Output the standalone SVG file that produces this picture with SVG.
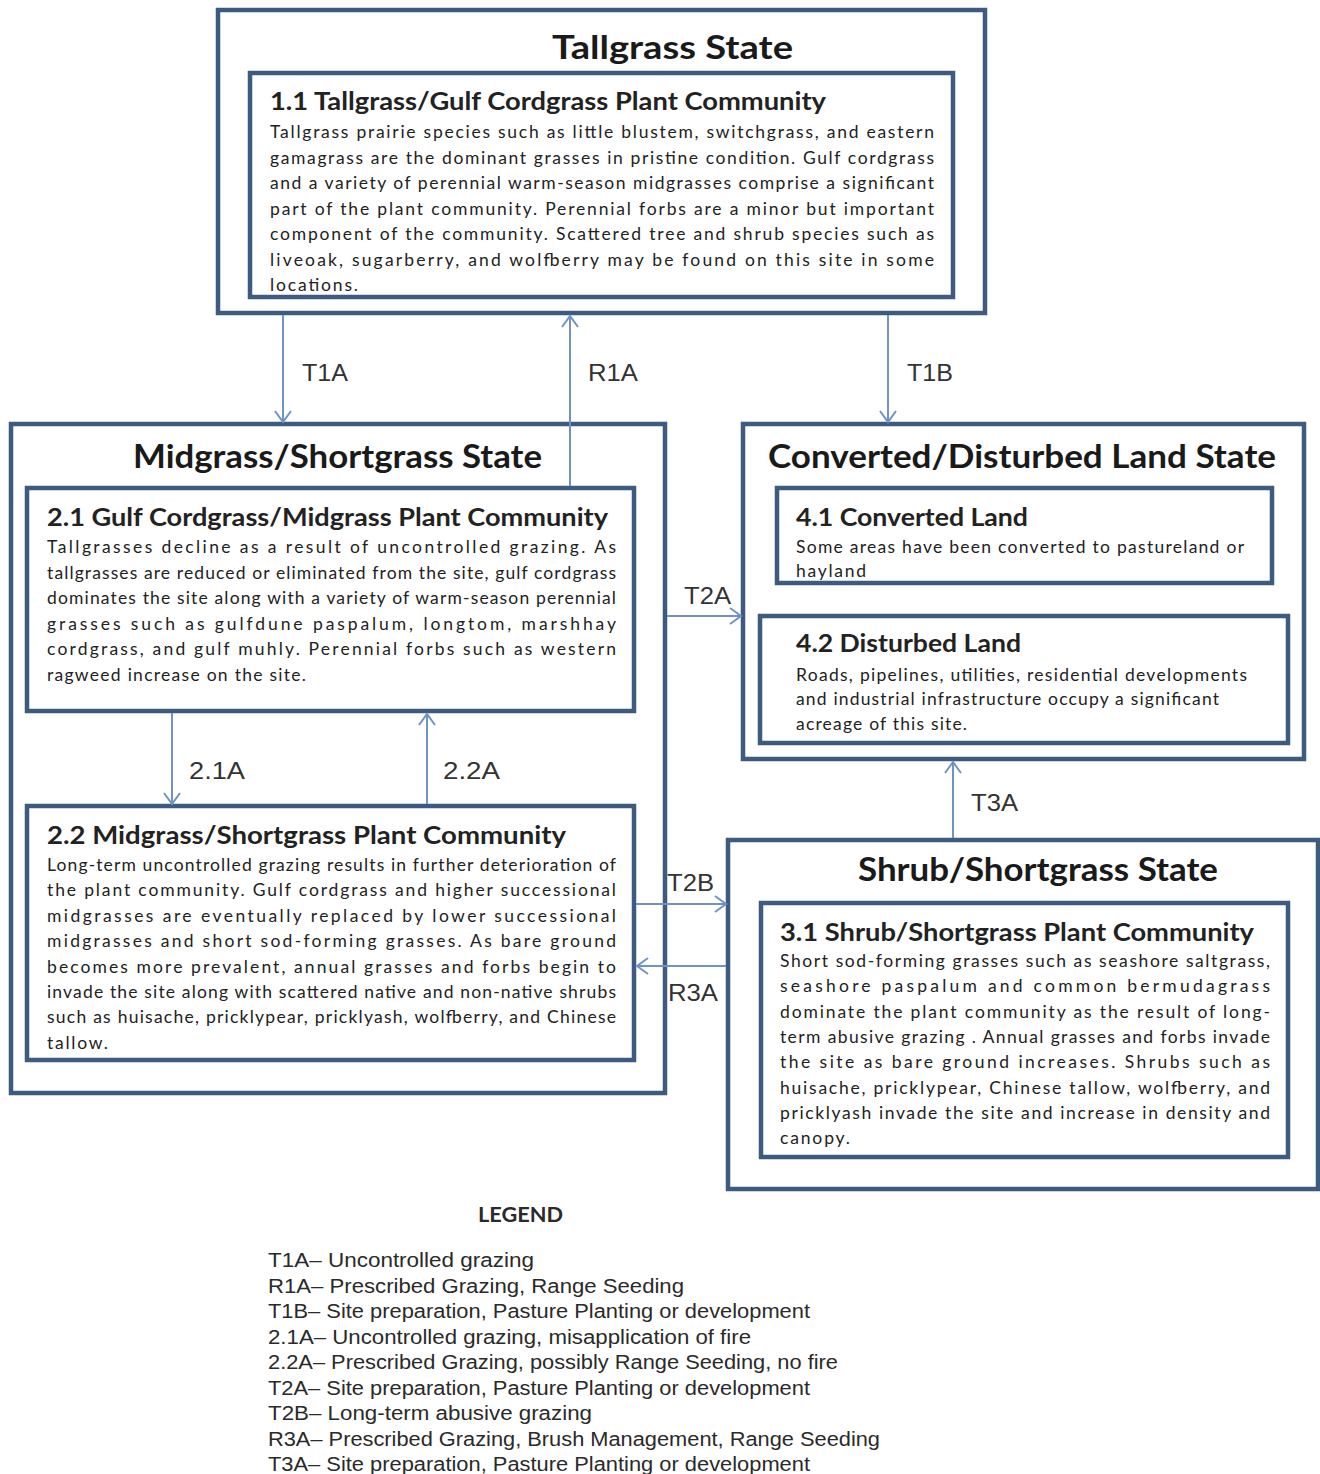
<svg xmlns="http://www.w3.org/2000/svg" width="1320" height="1474" viewBox="0 0 1320 1474">
<style>
.box{fill:#ffffff;stroke:#3d5a80;stroke-width:4.5}
.st{font-family:Lato,"Open Sans",sans-serif;font-weight:700;font-size:33px;fill:#1a1a1a}
.ct{font-family:Lato,"Open Sans",sans-serif;font-weight:700;font-size:24px;fill:#222}
.bd{font-family:Lato,"Open Sans",sans-serif;font-size:17.5px;fill:#222}
.lab{font-family:"Liberation Sans",Arial,sans-serif;font-size:24px;fill:#333}
.lg{font-family:"Liberation Sans",Arial,sans-serif;font-size:20px;fill:#2a2a2a}
.lgh{font-family:Lato,"Open Sans",sans-serif;font-weight:700;font-size:20px;fill:#2a2a2a}
.ar{stroke:#6f93c4;stroke-width:2;fill:none}
</style>
<defs>
<marker id="ah" viewBox="-13 -9 15 18" markerWidth="15" markerHeight="18" refX="0" refY="0" orient="auto" markerUnits="userSpaceOnUse">
<path d="M-11,-8 L0,0 L-11,8" fill="none" stroke="#6f93c4" stroke-width="2"/>
</marker>
</defs>
<rect width="1320" height="1474" fill="#ffffff"/>

<g id="tallgrass-state">
<rect class="box" x="218" y="10" width="767" height="303"/>
<text class="st" x="552" y="59" textLength="241" lengthAdjust="spacingAndGlyphs">Tallgrass State</text>
</g>
<g id="community-1-1">
<rect class="box" x="250" y="73" width="703" height="224"/>
<text class="ct" x="270" y="110" textLength="556" lengthAdjust="spacingAndGlyphs">1.1 Tallgrass/Gulf Cordgrass Plant Community</text>
<text class="bd" x="270" y="138" textLength="664" lengthAdjust="spacing">Tallgrass prairie species such as little blustem, switchgrass, and eastern</text>
<text class="bd" x="270" y="163.5" textLength="664" lengthAdjust="spacing">gamagrass are the dominant  grasses in pristine condition.  Gulf cordgrass</text>
<text class="bd" x="270" y="189" textLength="664" lengthAdjust="spacing">and a variety of perennial warm-season midgrasses comprise a significant</text>
<text class="bd" x="270" y="214.5" textLength="664" lengthAdjust="spacing">part of the plant community.  Perennial forbs are a minor but important</text>
<text class="bd" x="270" y="240" textLength="664" lengthAdjust="spacing">component of the community.  Scattered tree and shrub species such as</text>
<text class="bd" x="270" y="265.5" textLength="664" lengthAdjust="spacing">liveoak, sugarberry, and wolfberry may be found on this site in some</text>
<text class="bd" x="270" y="291" textLength="88" lengthAdjust="spacing">locations.</text>
</g>

<g id="midgrass-state">
<rect class="box" x="11" y="424" width="654" height="669"/>
<text class="st" x="133" y="468" textLength="409" lengthAdjust="spacingAndGlyphs">Midgrass/Shortgrass State</text>
</g>
<g id="community-2-1">
<rect class="box" x="27" y="488" width="607" height="223"/>
<text class="ct" x="47" y="526" textLength="561" lengthAdjust="spacingAndGlyphs">2.1 Gulf Cordgrass/Midgrass Plant Community</text>
<text class="bd" x="47" y="553" textLength="569" lengthAdjust="spacing">Tallgrasses decline as a result of uncontrolled grazing.  As</text>
<text class="bd" x="47" y="578.5" textLength="569" lengthAdjust="spacing">tallgrasses are reduced or eliminated from the site, gulf cordgrass</text>
<text class="bd" x="47" y="604" textLength="569" lengthAdjust="spacing">dominates the site along with a variety of warm-season perennial</text>
<text class="bd" x="47" y="629.5" textLength="569" lengthAdjust="spacing">grasses such as gulfdune paspalum, longtom, marshhay</text>
<text class="bd" x="47" y="655" textLength="569" lengthAdjust="spacing">cordgrass, and gulf muhly.  Perennial forbs such as western</text>
<text class="bd" x="47" y="680.5" textLength="259" lengthAdjust="spacing">ragweed increase on the site.</text>
</g>
<g id="community-2-2">
<rect class="box" x="27" y="806" width="607" height="254"/>
<text class="ct" x="47" y="844" textLength="519" lengthAdjust="spacingAndGlyphs">2.2 Midgrass/Shortgrass Plant  Community</text>
<text class="bd" x="47" y="871" textLength="569" lengthAdjust="spacing">Long-term uncontrolled grazing results in further deterioration of</text>
<text class="bd" x="47" y="896.4" textLength="569" lengthAdjust="spacing">the plant community.  Gulf cordgrass and higher successional</text>
<text class="bd" x="47" y="921.8" textLength="569" lengthAdjust="spacing">midgrasses are eventually replaced by lower successional</text>
<text class="bd" x="47" y="947.2" textLength="569" lengthAdjust="spacing">midgrasses and short sod-forming grasses.  As bare ground</text>
<text class="bd" x="47" y="972.6" textLength="569" lengthAdjust="spacing">becomes more prevalent, annual grasses and forbs begin to</text>
<text class="bd" x="47" y="998" textLength="569" lengthAdjust="spacing">invade the site along with scattered native and non-native shrubs</text>
<text class="bd" x="47" y="1023.4" textLength="569" lengthAdjust="spacing">such as huisache, pricklypear, pricklyash, wolfberry, and Chinese</text>
<text class="bd" x="47" y="1048.8" textLength="61" lengthAdjust="spacing">tallow.</text>
</g>

<g id="converted-state">
<rect class="box" x="743" y="424" width="561" height="335"/>
<text class="st" x="768" y="468" textLength="508" lengthAdjust="spacingAndGlyphs">Converted/Disturbed Land  State</text>
</g>
<g id="community-4-1">
<rect class="box" x="777" y="488" width="495" height="95"/>
<text class="ct" x="796" y="526" textLength="232" lengthAdjust="spacingAndGlyphs">4.1 Converted Land</text>
<text class="bd" x="796" y="553" textLength="448" lengthAdjust="spacing">Some areas have been converted to pastureland or</text>
<text class="bd" x="796" y="577" textLength="70" lengthAdjust="spacing">hayland</text>
</g>
<g id="community-4-2">
<rect class="box" x="760" y="616" width="528" height="127"/>
<text class="ct" x="796" y="652" textLength="225" lengthAdjust="spacingAndGlyphs">4.2 Disturbed Land</text>
<text class="bd" x="796" y="681" textLength="451" lengthAdjust="spacing">Roads, pipelines, utilities, residential developments</text>
<text class="bd" x="796" y="705" textLength="423" lengthAdjust="spacing">and industrial infrastructure occupy a significant</text>
<text class="bd" x="796" y="730" textLength="171" lengthAdjust="spacing">acreage of this site.</text>
</g>

<g id="shrub-state">
<rect class="box" x="728" y="840" width="590" height="349"/>
<text class="st" x="858" y="881" textLength="360" lengthAdjust="spacingAndGlyphs">Shrub/Shortgrass State</text>
</g>
<g id="community-3-1">
<rect class="box" x="761" y="903" width="527" height="254"/>
<text class="ct" x="780" y="941" textLength="474" lengthAdjust="spacingAndGlyphs">3.1 Shrub/Shortgrass Plant Community</text>
<text class="bd" x="780" y="967" textLength="490" lengthAdjust="spacing">Short sod-forming grasses such as seashore saltgrass,</text>
<text class="bd" x="780" y="992.3" textLength="490" lengthAdjust="spacing">seashore paspalum and common bermudagrass</text>
<text class="bd" x="780" y="1017.6" textLength="490" lengthAdjust="spacing">dominate the plant community  as the result of long-</text>
<text class="bd" x="780" y="1042.9" textLength="490" lengthAdjust="spacing">term abusive grazing .  Annual grasses and forbs invade</text>
<text class="bd" x="780" y="1068.2" textLength="490" lengthAdjust="spacing">the site as bare ground increases.  Shrubs such as</text>
<text class="bd" x="780" y="1093.5" textLength="490" lengthAdjust="spacing">huisache, pricklypear,  Chinese tallow, wolfberry, and</text>
<text class="bd" x="780" y="1118.8" textLength="490" lengthAdjust="spacing">pricklyash invade the site and increase in density and</text>
<text class="bd" x="780" y="1144.1" textLength="70" lengthAdjust="spacing">canopy.</text>
</g>

<g id="connectors">
<line class="ar" x1="283" y1="315" x2="283" y2="422" marker-end="url(#ah)"/>
<line class="ar" x1="570" y1="486" x2="570" y2="316" marker-end="url(#ah)"/>
<line class="ar" x1="888" y1="315" x2="888" y2="422" marker-end="url(#ah)"/>
<line class="ar" x1="667" y1="616" x2="741" y2="616" marker-end="url(#ah)"/>
<line class="ar" x1="172" y1="713" x2="172" y2="804" marker-end="url(#ah)"/>
<line class="ar" x1="427" y1="804" x2="427" y2="714" marker-end="url(#ah)"/>
<line class="ar" x1="636" y1="904" x2="726" y2="904" marker-end="url(#ah)"/>
<line class="ar" x1="726" y1="966" x2="637" y2="966" marker-end="url(#ah)"/>
<line class="ar" x1="953" y1="838" x2="953" y2="762" marker-end="url(#ah)"/>
<text class="lab" x="302" y="381" textLength="46" lengthAdjust="spacingAndGlyphs">T1A</text>
<text class="lab" x="588" y="381" textLength="50" lengthAdjust="spacingAndGlyphs">R1A</text>
<text class="lab" x="907" y="381" textLength="46" lengthAdjust="spacingAndGlyphs">T1B</text>
<text class="lab" x="684" y="604" textLength="47" lengthAdjust="spacingAndGlyphs">T2A</text>
<text class="lab" x="189" y="779" textLength="56" lengthAdjust="spacingAndGlyphs">2.1A</text>
<text class="lab" x="443" y="779" textLength="57" lengthAdjust="spacingAndGlyphs">2.2A</text>
<text class="lab" x="667" y="891" textLength="47" lengthAdjust="spacingAndGlyphs">T2B</text>
<text class="lab" x="668" y="1001" textLength="50" lengthAdjust="spacingAndGlyphs">R3A</text>
<text class="lab" x="971" y="811" textLength="47" lengthAdjust="spacingAndGlyphs">T3A</text>
</g>

<g id="legend">
<text class="lgh" x="478" y="1222" textLength="85" lengthAdjust="spacingAndGlyphs">LEGEND</text>
<text class="lg" x="268" y="1267" textLength="266" lengthAdjust="spacingAndGlyphs">T1A– Uncontrolled grazing</text>
<text class="lg" x="268" y="1292.5" textLength="416" lengthAdjust="spacingAndGlyphs">R1A– Prescribed Grazing, Range Seeding</text>
<text class="lg" x="268" y="1318" textLength="542" lengthAdjust="spacingAndGlyphs">T1B– Site preparation, Pasture Planting or development</text>
<text class="lg" x="268" y="1343.5" textLength="483" lengthAdjust="spacingAndGlyphs">2.1A– Uncontrolled grazing, misapplication of  fire</text>
<text class="lg" x="268" y="1369" textLength="570" lengthAdjust="spacingAndGlyphs">2.2A– Prescribed Grazing, possibly Range Seeding, no fire</text>
<text class="lg" x="268" y="1394.5" textLength="542" lengthAdjust="spacingAndGlyphs">T2A– Site preparation, Pasture Planting or development</text>
<text class="lg" x="268" y="1420" textLength="324" lengthAdjust="spacingAndGlyphs">T2B– Long-term abusive grazing</text>
<text class="lg" x="268" y="1445.5" textLength="612" lengthAdjust="spacingAndGlyphs">R3A– Prescribed Grazing, Brush Management, Range Seeding</text>
<text class="lg" x="268" y="1471" textLength="542" lengthAdjust="spacingAndGlyphs">T3A– Site preparation, Pasture Planting or development</text>
</g>
</svg>
